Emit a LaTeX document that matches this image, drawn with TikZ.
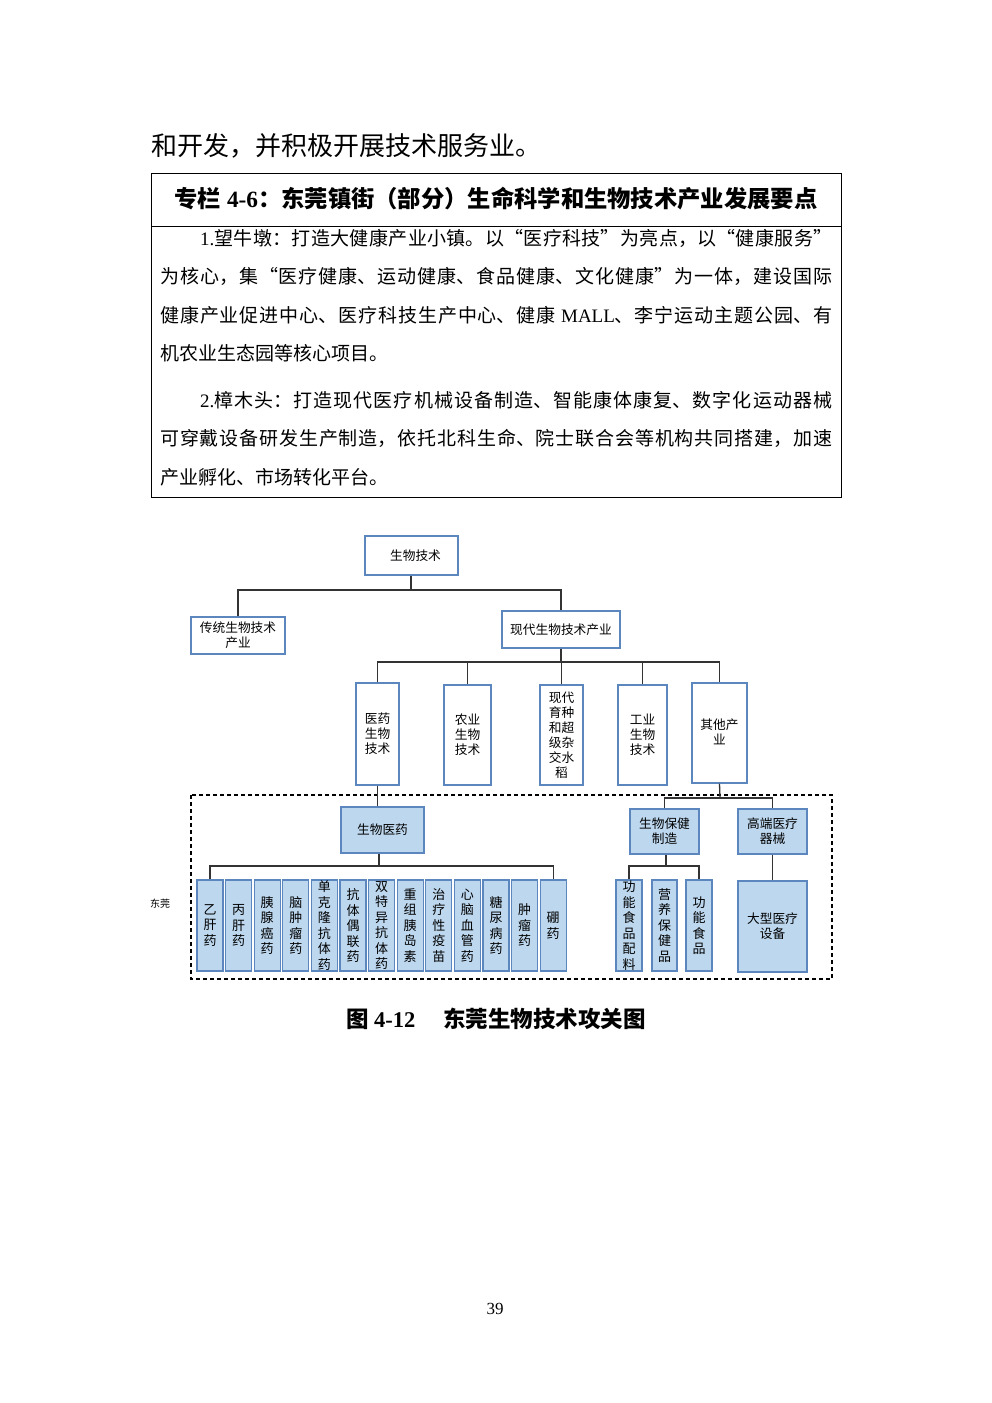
\documentclass[tikz,border=0pt]{standalone}
\usepackage{fontspec}
\setmainfont{Liberation Serif}
\newfontfamily\cjk{Noto Sans CJK SC}
\newcommand\lat[1]{{\rmfamily #1}}
\XeTeXlinebreaklocale "zh"
\XeTeXlinebreakskip=0pt plus 4pt
\definecolor{bfill}{HTML}{BDD7EE}
\definecolor{bline}{HTML}{5B87BE}
\definecolor{cline}{HTML}{333333}
\tikzset{
  whitebox/.style={draw=bline, line width=1.3pt, fill=white, inner sep=0pt, align=center, font=\cjk\fontsize{12.7}{15}\selectfont},
  bluebox/.style={whitebox, fill=bfill},
  vertbox/.style={bluebox, font=\cjk\fontsize{13}{15.5}\selectfont},
  conn/.style={draw=cline, line width=1.3pt},
  para/.style={anchor=north west, inner sep=0pt, text width=672pt, align=justify, font=\cjk\fontsize{19}{38.4}\selectfont},
}
\newcommand\bx[7]{\node[#6, minimum width={#4-#2}, minimum height={#5-#3}] (#1) at ({(#2+#4)/2},{(#3+#5)/2}) {#7};}
\begin{document}
\begin{tikzpicture}[x=1pt,y=-1pt]
\useasboundingbox (0,0) rectangle (992,1403);
\fill[white] (0,0) rectangle (992,1403);

% intro line
\node[anchor=west, inner sep=0pt, font=\cjk\fontsize{26}{30}\selectfont] (intro) at (151,146) {和开发，并积极开展技术服务业。};

% table
\draw[line width=1pt] (151,173) rectangle (841,497);
\draw[line width=1pt] (151,226) -- (841,226);
\node[inner sep=0pt, font=\cjk\bfseries\fontsize{23.3}{26}\selectfont] (title) at (496,199) {专栏\lat{ 4-6}：东莞镇街（部分）生命科学和生物技术产业发展要点};
\node[para] (p1) at (160,229) {\hspace*{40pt}\lat{1.}望牛墩：打造大健康产业小镇。以“医疗科技”为亮点，以“健康服务”\linebreak 为核心，集“医疗健康、运动健康、食品健康、文化健康”为一体，建设国际\linebreak 健康产业促进中心、医疗科技生产中心、健康\lat{ MALL}、李宁运动主题公园、有\linebreak 机农业生态园等核心项目。};
\node[para] (p2) at (160,391) {\hspace*{40pt}\lat{2.}樟木头：打造现代医疗机械设备制造、智能康体康复、数字化运动器械\linebreak 可穿戴设备研发生产制造，依托北科生命、院士联合会等机构共同搭建，加速\linebreak 产业孵化、市场转化平台。};

% diagram level 0-1
\bx{top}{365}{536}{458}{575}{whitebox}{\hspace*{8pt}生物技术}
\bx{trad}{191}{617}{285}{654}{whitebox}{传统生物技术\\产业}
\bx{mod}{502}{611}{620}{648}{whitebox}{现代生物技术产业}
\coordinate (j1) at (411,590);
\draw[conn] (top.south -| j1) -- (j1);
\draw[conn] (trad.north) |- (j1) -| (mod.north);

% level 2
\bx{med}{356}{683}{399}{785}{whitebox}{医药\\生物\\技术}
\bx{agr}{444}{685}{491}{785}{whitebox}{农业\\生物\\技术}
\bx{breed}{540}{685}{583}{785}{whitebox}{现代\\育种\\和超\\级杂\\交水\\稻}
\bx{ind}{618}{685}{667}{785}{whitebox}{工业\\生物\\技术}
\node[draw=bline, line width=1.3pt, fill=white, minimum width=55, minimum height=100, inner sep=0pt] (oth) at (719.5,733) {};
\node[inner sep=0pt, align=center, font=\cjk\fontsize{12.7}{15}\selectfont] (othtext) at (719.5,732) {其他产\\业};
\coordinate (j2) at (561,662);
\draw[conn] (mod.south) -- (j2);
\draw[conn] (med.north) |- (j2) -| (oth.north);
\draw[conn] (agr.north) -- (agr.north |- j2);
\draw[conn] (breed.north) -- (breed.north |- j2);
\draw[conn] (ind.north) -- (ind.north |- j2);

% dashed region
\draw[dashed, dash pattern=on 4pt off 3pt, line width=1.1pt] (191,795) rectangle (832,979);
\node[inner sep=0pt, font=\cjk\fontsize{10}{12}\selectfont] (dg) at (160,904) {东莞};

% level 3
\bx{bmed}{341}{807}{424}{853}{bluebox}{生物医药}
\bx{hc}{630}{809}{699}{854}{bluebox}{生物保健\\制造}
\bx{hi}{738}{809}{807}{854}{bluebox}{高端医疗\\器械}
\draw[conn] (med.south) -- (med.south |- bmed.north);
\coordinate (j3) at (720,798);
\draw[conn] (oth.south) -- (j3);
\draw[conn] (hc.north) |- (j3) -| (hi.north);

% level 4 drugs
\foreach \i/\t in {0/{乙\\肝\\药},1/{丙\\肝\\药},2/{胰\\腺\\癌\\药},3/{脑\\肿\\瘤\\药},4/{单\\克\\隆\\抗\\体\\药},5/{抗\\体\\偶\\联\\药},6/{双\\特\\异\\抗\\体\\药},7/{重\\组\\胰\\岛\\素},8/{治\\疗\\性\\疫\\苗},9/{心\\脑\\血\\管\\药},10/{糖\\尿\\病\\药},11/{肿\\瘤\\药},12/{硼\\药}}{
  \pgfmathsetmacro\xc{210+28.6*\i}
  \node[vertbox, minimum width=26, minimum height=91] (d\i) at (\xc,925.5) {\t};
}
\coordinate (j4) at (379,866);
\draw[conn] (j4 |- bmed.south) -- (j4);
\draw[conn] (d0.north) |- (j4) -| (d12.north);

% health products
\bx{f1}{616}{880}{642}{971}{vertbox}{功\\能\\食\\品\\配\\料}
\bx{f2}{652}{880}{677}{971}{vertbox}{营\\养\\保\\健\\品}
\bx{f3}{686}{880}{712}{971}{vertbox}{功\\能\\食\\品}
\coordinate (j5) at (666,866);
\draw[conn] (j5 |- hc.south) -- (j5);
\draw[conn] (f1.north) |- (j5) -| (f3.north);

\bx{big}{738}{881}{807}{972}{bluebox}{大型医疗\\设备}
\draw[conn] (hi.south) -- (big.north);

% caption and page number
\node[inner sep=0pt, font=\cjk\bfseries\fontsize{22.5}{26}\selectfont] (cap) at (496,1019) {图\lat{ 4-12}\hspace{28pt}东莞生物技术攻关图};
\node[inner sep=0pt, font=\fontsize{17}{20}\selectfont] (pg) at (495,1309) {39};
\end{tikzpicture}
\end{document}
